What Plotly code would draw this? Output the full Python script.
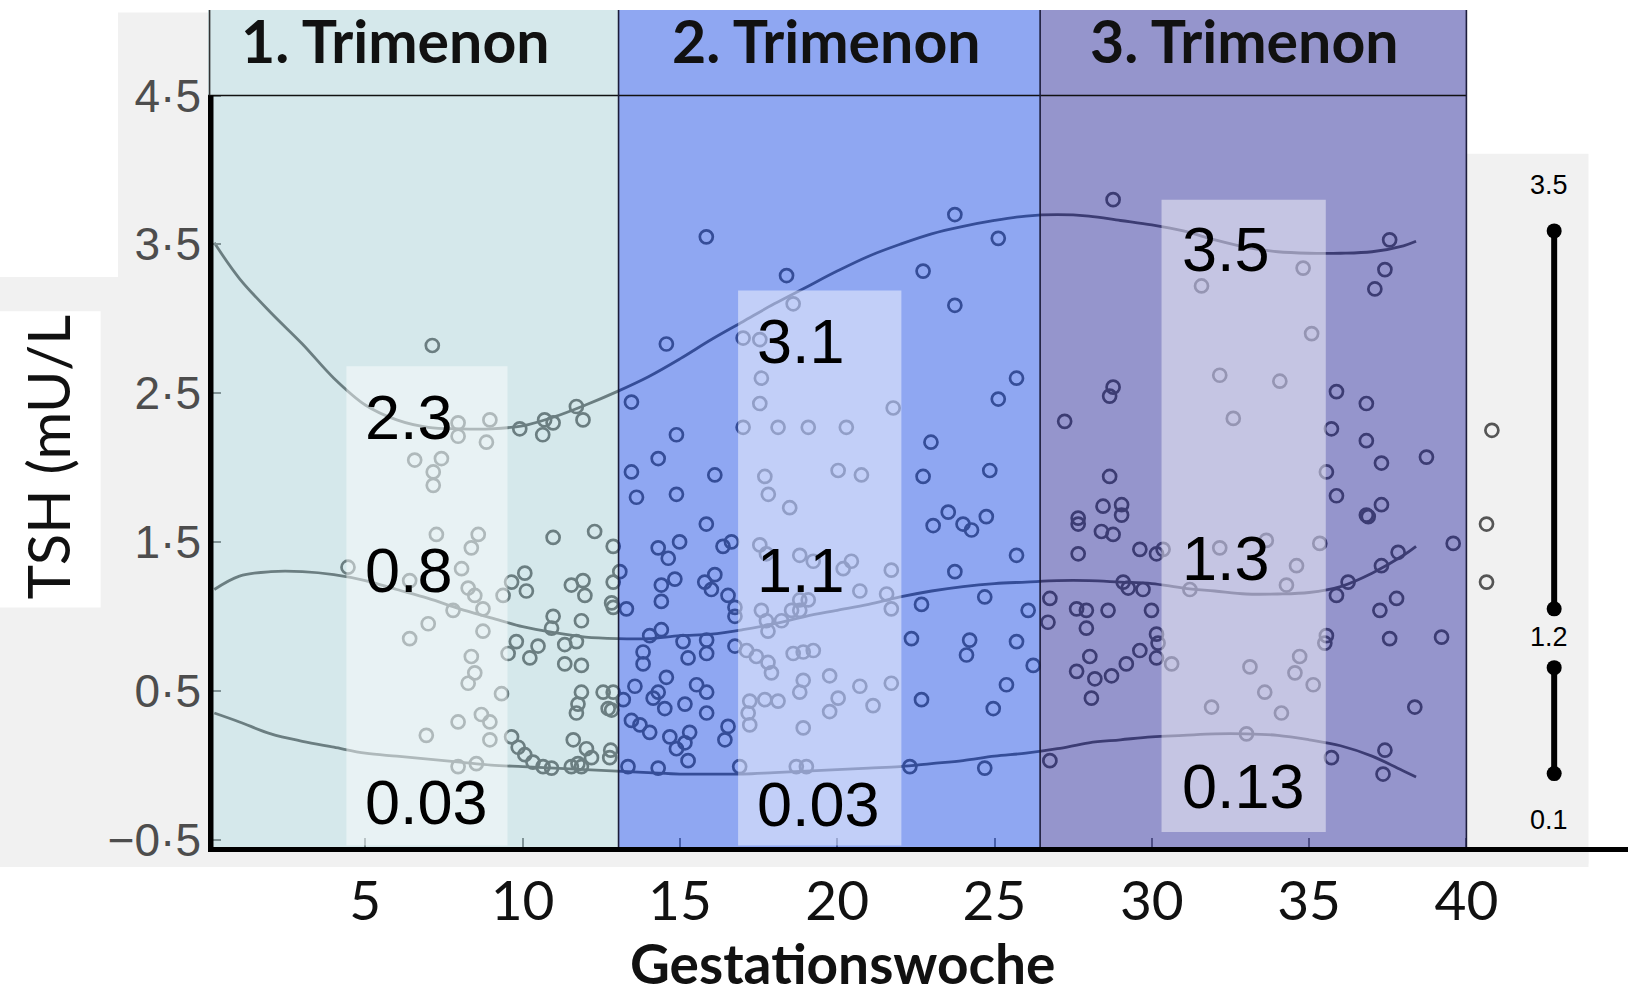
import plotly.graph_objects as go

# ---------------- data ----------------
curve_weeks = [0.2, 1, 2, 3, 4, 5, 6, 7, 8, 9, 10, 11, 12, 13, 14, 15, 16, 17, 18, 19, 20,
               21, 22, 23, 24, 25, 26, 27, 28, 29, 30, 31, 32, 33, 34, 35, 36, 37, 38, 38.4]
p97_5 = [3.51, 3.27, 3.04, 2.83, 2.60, 2.42, 2.32, 2.27, 2.26, 2.26, 2.28, 2.34, 2.42, 2.51,
         2.61, 2.73, 2.86, 2.98, 3.10, 3.21, 3.32, 3.42, 3.50, 3.57, 3.62, 3.66, 3.69, 3.70,
         3.69, 3.66, 3.63, 3.59, 3.53, 3.48, 3.45, 3.44, 3.44, 3.45, 3.49, 3.52]
p50 = [1.18, 1.27, 1.30, 1.30, 1.28, 1.24, 1.18, 1.12, 1.05, 0.99, 0.93, 0.89, 0.86, 0.85,
       0.85, 0.87, 0.88, 0.91, 0.95, 1.00, 1.04, 1.08, 1.13, 1.17, 1.20, 1.22, 1.23, 1.24,
       1.24, 1.23, 1.22, 1.19, 1.17, 1.15, 1.15, 1.16, 1.20, 1.29, 1.41, 1.47]
p2_5 = [0.35, 0.29, 0.21, 0.16, 0.12, 0.08, 0.06, 0.04, 0.02, 0.00, -0.01, -0.02, -0.03, -0.04,
        -0.05, -0.06, -0.06, -0.06, -0.05, -0.04, -0.03, -0.02, -0.01, 0.01, 0.03, 0.06, 0.08,
        0.11, 0.15, 0.17, 0.19, 0.20, 0.21, 0.21, 0.20, 0.17, 0.13, 0.06, -0.04, -0.08]

pt_week = [
    # 1st trimester
    7.13, 7.95, 7.95, 8.96, 8.85, 9.91, 10.64, 10.70, 10.97, 11.71, 11.92, 6.57, 7.42, 7.16, 7.16,
    7.26, 8.59, 8.37, 8.06, 4.45, 6.41, 8.27, 8.48, 8.74, 7.79, 7.00, 6.41, 8.74, 8.37, 8.48,
    8.27, 9.33, 7.95, 8.69, 8.96, 8.96, 6.94, 10.97, 12.29, 12.88, 10.07, 10.12, 9.65, 9.38,
    11.55, 11.92, 11.98, 12.88, 12.88, 10.97, 10.92, 11.87, 11.34, 11.71, 9.80, 9.54, 10.23,
    10.49, 11.34, 11.87, 11.87, 11.76, 11.71, 12.56, 12.72, 12.88, 11.61, 12.03, 12.19, 11.76,
    9.65, 9.86, 10.07, 10.33, 10.65, 10.92, 11.55, 11.87, 12.77, 7.95, 8.53, 12.83, 12.83, 12.80,
    # 2nd trimester
    15.84, 18.39, 18.60, 17.01, 17.54, 14.57, 23.74, 25.12, 22.73, 23.74, 13.46, 17.59, 17.54,
    17.01, 18.12, 19.08, 20.29, 21.78, 25.70, 25.12, 14.89, 14.31, 13.46, 13.62, 14.89, 16.11,
    17.70, 17.81, 18.49, 20.03, 20.77, 22.98, 22.73, 24.85, 23.53,
    15.84, 14.99, 14.31, 14.63, 13.09, 14.84, 14.41, 15.79, 16.11, 16.00, 16.37, 16.64, 16.53,
    16.75, 16.75, 13.30, 14.41, 14.04, 14.41, 13.83, 13.83, 15.10, 15.26, 15.85, 15.85, 16.75,
    14.57, 13.57, 14.31, 14.15, 14.52, 13.20, 15.16, 15.53, 15.85, 15.85, 13.46, 13.73, 14.04,
    14.68, 14.89, 15.31, 15.16, 15.26, 16.53, 16.43, 13.35, 14.31,
    17.54, 17.75, 18.81, 19.24, 20.19, 20.45, 21.72, 17.59, 17.75, 17.80, 18.23, 18.55, 18.81,
    19.08, 18.81, 20.72, 21.57, 21.72, 17.12, 17.43, 17.80, 17.91, 18.60, 18.92, 19.24, 19.76,
    18.92, 18.81, 17.22, 17.70, 18.12, 17.17, 17.22, 20.03, 19.76, 20.72, 21.14, 21.72, 18.92,
    16.90, 18.70, 19.02,
    23.05, 24.00, 24.27, 24.74, 25.70, 23.74, 22.68, 24.69, 26.07, 22.36, 24.21, 24.11, 25.70,
    26.23, 22.68, 25.38, 24.96, 22.31, 24.69,
    # 3rd trimester
    28.77, 37.56, 37.41, 37.09, 34.81, 31.58, 35.08, 32.16, 34.07, 32.59, 28.77, 28.66, 27.23,
    35.87, 36.82, 35.71, 36.82, 37.30, 38.73, 35.55, 35.87, 37.30, 36.82, 28.66, 28.45, 29.04,
    29.04, 27.66,
    27.66, 28.40, 28.77, 27.66, 29.62, 30.15, 30.36, 32.16, 33.64, 34.60, 35.34, 37.83, 39.58,
    36.88, 29.09, 29.25, 29.72, 31.21, 34.28, 35.87, 36.24, 37.30, 26.76, 26.70, 27.61, 27.92,
    27.92, 28.61, 29.99, 30.15, 30.20, 28.03, 27.61, 28.19, 28.72, 29.19, 29.62, 30.15, 28.08,
    30.63, 33.12, 34.70, 34.55, 35.13, 33.59, 31.90, 34.12, 35.55, 35.50, 37.25, 37.78, 37.56,
    39.21, 38.36, 26.76, 35.71, 33.01, 37.41, 37.35,
    # beyond week 40
    40.81, 40.64, 40.64,
]
pt_tsh = [
    # 1st trimester
    2.82, 2.30, 2.21, 2.32, 2.17, 2.26, 2.22, 2.32, 2.30, 2.41, 2.32, 2.05, 2.06, 1.97, 1.88,
    1.55, 1.55, 1.46, 1.32, 1.33, 1.24, 1.19, 1.14, 1.05, 1.04, 0.95, 0.85, 0.90, 0.73, 0.62,
    0.55, 0.48, 0.29, 0.34, 0.29, 0.17, 0.20, 1.53, 1.57, 1.47, 1.29, 1.17, 1.23, 1.14,
    1.21, 1.24, 1.14, 1.23, 1.06, 1.00, 0.92, 0.97, 0.81, 0.83, 0.83, 0.75, 0.72,
    0.80, 0.68, 0.67, 0.49, 0.41, 0.35, 0.49, 0.38, 0.49, 0.17, 0.11, 0.05, 0.01,
    0.19, 0.12, 0.07, 0.02, -0.01, -0.02, -0.01, -0.01, 0.05, -0.01, 0.01, 1.09, 0.37, 0.10,
    # 2nd trimester
    3.55, 3.29, 3.10, 2.87, 2.86, 2.83, 3.70, 3.54, 3.32, 3.09, 2.44, 2.60, 2.43,
    2.27, 2.27, 2.27, 2.27, 2.40, 2.60, 2.46, 2.22, 2.06, 1.97, 1.80, 1.82, 1.95,
    1.94, 1.82, 1.73, 1.98, 1.95, 2.17, 1.94, 1.98, 1.70,
    1.62, 1.50, 1.46, 1.39, 1.30, 1.25, 1.21, 1.23, 1.28, 1.18, 1.47, 1.50, 1.14,
    1.06, 1.00, 1.05, 1.10, 0.87, 0.91, 0.76, 0.68, 0.83, 0.72, 0.84, 0.75, 0.80,
    0.59, 0.53, 0.49, 0.45, 0.38, 0.44, 0.41, 0.54, 0.49, 0.35, 0.30, 0.27, 0.22,
    0.19, 0.11, 0.22, 0.15, 0.03, 0.26, 0.17, -0.01, -0.02,
    1.48, 1.42, 1.41, 1.37, 1.32, 1.37, 1.31, 1.04, 0.97, 0.90, 0.97, 1.04, 1.11,
    1.11, 1.04, 1.17, 1.15, 1.05, 0.77, 0.73, 0.69, 0.62, 0.75, 0.76, 0.77, 0.60,
    0.57, 0.49, 0.43, 0.44, 0.43, 0.35, 0.27, 0.45, 0.36, 0.53, 0.40, 0.55, 0.25,
    -0.01, -0.01, -0.01,
    1.61, 1.62, 1.58, 1.67, 1.41, 1.30, 1.08, 1.13, 1.04, 0.85, 0.84, 0.74, 0.83,
    0.67, 0.44, 0.54, 0.38, -0.01, -0.02,
    # 3rd trimester
    3.80, 3.53, 3.33, 3.20, 3.34, 3.22, 2.90, 2.62, 2.58, 2.33, 2.54, 2.48, 2.31,
    2.51, 2.43, 2.26, 2.18, 2.03, 2.07, 1.97, 1.81, 1.75, 1.68, 1.94, 1.74, 1.75,
    1.68, 1.66,
    1.62, 1.57, 1.55, 1.42, 1.45, 1.42, 1.45, 1.46, 1.51, 1.34, 1.49, 1.43, 1.49,
    1.67, 1.23, 1.19, 1.18, 1.18, 1.21, 1.14, 1.23, 1.34, 1.12, 0.96, 1.05, 1.04,
    0.92, 1.04, 1.04, 0.88, 0.82, 0.73, 0.63, 0.58, 0.60, 0.68, 0.77, 0.72, 0.45,
    0.68, 0.66, 0.73, 0.62, 0.54, 0.49, 0.39, 0.35, 0.87, 0.82, 1.04, 1.12, 0.85,
    0.86, 0.39, 0.03, 0.05, 0.21, 0.10, -0.06,
    # beyond week 40
    2.25, 1.62, 1.23,
]

x_tick_vals = [5, 10, 15, 20, 25, 30, 35, 40]
x_tick_text = ["5", "10", "15", "20", "25", "30", "35", "40"]
y_tick_vals = [-0.5, 0.5, 1.5, 2.5, 3.5, 4.5]
y_tick_text = ["\u22120\u00b75", "0\u00b75", "1\u00b75", "2\u00b75", "3\u00b75", "4\u00b75"]

trimester_names = ["1. Trimenon", "2. Trimenon", "3. Trimenon"]
trimester_bounds = [0, 13.05, 26.45, 40]
upper_ref = ["2.3", "3.1", "3.5"]
median_ref = ["0.8", "1.1", "1.3"]
lower_ref = ["0.03", "0.03", "0.13"]
range_bar_upper = [3.59, 1.05]
range_bar_lower = [0.655, -0.057]
range_bar_labels = ["3.5", "1.2", "0.1"]

# ---------------- layout constants ----------------
X_MAX = 1420 / 31.46
Y_MIN, Y_MAX = -0.5504, 5.0746
BASE = "#555555"

region_fill = ["rgba(145,195,203,0.38)", "rgba(17,68,228,0.47)", "rgba(33,33,149,0.48)"]
column_x = [(4.4, 9.52), (16.85, 22.04), (30.31, 35.53)]
column_top = [2.68, 3.19, 3.80]
column_bottom = [-0.54, -0.54, -0.45]
upper_pos = [(6.39, 2.34), (18.86, 2.85), (32.36, 3.47)]
median_pos = [(6.39, 1.31), (18.86, 1.31), (32.36, 1.39)]
lower_pos = [(6.95, -0.245), (19.42, -0.26), (32.92, -0.14)]
header_x = [5.96, 19.65, 32.95]

fig = go.Figure()

for series in (p97_5, p50, p2_5):
    fig.add_trace(go.Scatter(x=curve_weeks, y=series, mode="lines",
                             line=dict(color=BASE, width=2.8, shape="spline"),
                             hoverinfo="skip"))

fig.add_trace(go.Scatter(x=pt_week, y=pt_tsh, mode="markers",
                         marker=dict(symbol="circle-open", size=13,
                                     line=dict(color=BASE, width=2.7), color=BASE)))

bar_x = 42.79
for seg in (range_bar_upper, range_bar_lower):
    fig.add_trace(go.Scatter(x=[bar_x, bar_x], y=seg, mode="lines+markers",
                             line=dict(color="black", width=6),
                             marker=dict(color="black", size=15), cliponaxis=False))

shapes = []
# scanned-paper grey patches (behind)
grey = "#f1f1f1"
for (x0, x1, y0, y1) in [(-0.0634, 0, -0.024, 0.997), (-0.1465, -0.0634, -0.024, 0.681),
                         (-0.0634, 0.9722, -0.024, 0), (0.8866, 0.9722, -0.02, 0.8282)]:
    shapes.append(dict(type="rect", xref="paper", yref="paper", x0=x0, x1=x1, y0=y0, y1=y1,
                       fillcolor=grey, line=dict(width=0), layer="below"))
shapes.append(dict(type="rect", xref="paper", yref="paper", x0=-0.1465, x1=-0.0756,
                   y0=0.286, y1=0.640, fillcolor="white", line=dict(width=0), layer="below"))

for i in range(3):
    shapes.append(dict(type="rect", xref="x", yref="y", x0=trimester_bounds[i],
                       x1=trimester_bounds[i + 1], y0=Y_MIN, y1=Y_MAX,
                       fillcolor=region_fill[i], line=dict(width=0), layer="above"))
for i in range(3):
    shapes.append(dict(type="rect", xref="x", yref="y", x0=column_x[i][0], x1=column_x[i][1],
                       y0=column_bottom[i], y1=column_top[i],
                       fillcolor="rgba(255,255,255,0.46)", line=dict(width=0), layer="above"))

shapes.append(dict(type="line", xref="x", yref="y", x0=0, x1=40, y0=4.5, y1=4.5,
                   line=dict(color="#111111", width=1.6), layer="above"))
for xb in trimester_bounds[1:]:
    shapes.append(dict(type="line", xref="x", yref="y", x0=xb, x1=xb, y0=Y_MIN, y1=Y_MAX,
                       line=dict(color="#1c1c3a", width=1.6), layer="above"))
shapes.append(dict(type="line", xref="x", yref="y", x0=0.05, x1=0.05, y0=4.5, y1=Y_MAX,
                   line=dict(color="#333333", width=1.6), layer="above"))
shapes.append(dict(type="line", xref="x", yref="y", x0=0.087, x1=0.087, y0=Y_MIN, y1=4.5,
                   line=dict(color="black", width=5.5), layer="above"))

ann = []
for i in range(3):
    ann.append(dict(x=header_x[i], y=4.87, xref="x", yref="y",
                    text="<b>" + trimester_names[i] + "</b>",
                    showarrow=False, font=dict(family="Lato", size=59, color="#111111"),
                    xanchor="center", yanchor="middle"))
    for lab, pos in ((upper_ref[i], upper_pos[i]), (median_ref[i], median_pos[i]),
                     (lower_ref[i], lower_pos[i])):
        ann.append(dict(x=pos[0], y=pos[1], xref="x", yref="y", text=lab, showarrow=False,
                        font=dict(family="Liberation Sans", size=63, color="black"),
                        xanchor="center", yanchor="middle"))
for lab, yv in zip(range_bar_labels, [3.9, 0.864, -0.37]):
    ann.append(dict(x=42.62, y=yv, xref="x", yref="y", text=lab, showarrow=False,
                    font=dict(family="Liberation Sans", size=27, color="black"),
                    xanchor="center", yanchor="middle"))
ann.append(dict(x=0.4465, y=-0.1795, xref="paper", yref="paper", text="<b>Gestationswoche</b>",
                showarrow=False, font=dict(family="Lato", size=55, color="#111111"),
                xanchor="center", yanchor="bottom", borderpad=0))
ann.append(dict(x=-0.1125, y=0.466, xref="paper", yref="paper", text="TSH (mU/L", textangle=-90,
                showarrow=False, font=dict(family="Lato", size=58, color="#111111"),
                xanchor="center", yanchor="middle"))

fig.update_layout(
    width=1628, height=1001,
    margin=dict(l=208, r=0, t=10, b=154),
    paper_bgcolor="white", plot_bgcolor="white",
    showlegend=False,
    shapes=shapes, annotations=ann,
    xaxis=dict(range=[0, X_MAX], tickvals=x_tick_vals, ticktext=x_tick_text,
               ticks="inside", ticklen=9, tickwidth=2, tickcolor="#777777",
               showgrid=False, zeroline=False, showline=True, linewidth=5, linecolor="black",
               tickfont=dict(family="Lato", size=55, color="#111111"),
               ticklabelstandoff=2),
    yaxis=dict(range=[Y_MIN, Y_MAX], tickvals=y_tick_vals, ticktext=y_tick_text,
               ticks="inside", ticklen=13, tickwidth=2, tickcolor="#777777",
               showgrid=False, zeroline=False, showline=False,
               tickfont=dict(family="Liberation Sans", size=46, color="#4d4d4d"),
               ticklabelstandoff=6),
)

fig.write_html("out.html")
